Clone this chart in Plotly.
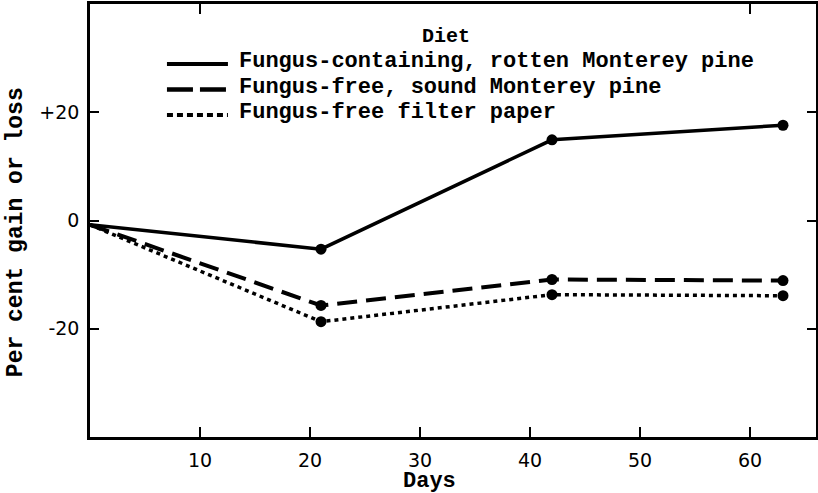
import plotly.graph_objects as go

days = [0, 21, 42, 63]
rotten_pine = [-0.8, -5.3, 14.9, 17.6]
sound_pine = [-0.8, -15.7, -10.9, -11.1]
filter_paper = [-0.8, -18.7, -13.7, -13.9]

series_names = [
    "Fungus-containing, rotten Monterey pine",
    "Fungus-free, sound Monterey pine",
    "Fungus-free filter paper",
]
legend_title = "Diet"
x_ticks = [10, 20, 30, 40, 50, 60]
y_ticks = [20, 0, -20]
y_tick_text = ["+20", "0", "-20"]

styles = [
    dict(width=3.5, dash="solid"),
    dict(width=4, dash="20px,9px"),
    dict(width=3.5, dash="4px,4px"),
]
legend_dashes = ["solid", "26px,7px", "6px,4px"]

fig = go.Figure()
for name, vals, st in zip(series_names, [rotten_pine, sound_pine, filter_paper], styles):
    fig.add_trace(go.Scatter(x=days, y=vals, mode="lines", name=name, showlegend=False,
                             line=dict(color="black", **st)))
for vals in [rotten_pine, sound_pine, filter_paper]:
    fig.add_trace(go.Scatter(x=days[1:], y=vals[1:], mode="markers", showlegend=False,
                             marker=dict(color="black", size=11)))

# invisible trace to carry top ticks
fig.add_trace(go.Scatter(x=[0, 66], y=[0, 0], xaxis="x2", mode="lines",
                         line=dict(width=0), showlegend=False, hoverinfo="skip"))

mono = "Liberation Mono"
txt_font = dict(family=mono, size=22, color="black", weight="bold")

# hand-built legend (paper coordinates)
legend_rows_y = [0.8672, 0.8083, 0.7494]
annotations = [dict(text=legend_title, x=0.49, y=0.9238, xref="paper", yref="paper",
                    showarrow=False, xanchor="center", yanchor="middle",
                    font=dict(family=mono, size=20, color="black", weight="bold"))]
shapes = []
for name, st, dsh, yy in zip(series_names, styles, legend_dashes, legend_rows_y):
    annotations.append(dict(text=name, x=0.202, y=yy, xref="paper", yref="paper",
                            showarrow=False, xanchor="left", yanchor="middle", font=txt_font))
    shapes.append(dict(type="line", xref="paper", yref="paper", x0=0.106, x1=0.19,
                       y0=yy - 0.006, y1=yy - 0.006,
                       line=dict(color="black", width=st["width"] + 0.5, dash=dsh)))

annotations.append(dict(text="Per cent gain or loss", textangle=-90, x=-0.102, y=0.473,
                        xref="paper", yref="paper", showarrow=False,
                        xanchor="center", yanchor="middle",
                        font=dict(family=mono, size=23, color="black", weight="bold")))
annotations.append(dict(text="Days", x=0.468, y=-0.103, xref="paper", yref="paper",
                        showarrow=False, xanchor="center", yanchor="middle",
                        font=dict(family=mono, size=22, color="black", weight="bold")))

tick_font = dict(family="DejaVu Sans", size=19, color="black")
fig.update_layout(
    width=818, height=493,
    margin=dict(l=90, r=2, t=4, b=56),
    paper_bgcolor="white", plot_bgcolor="white",
    font=dict(family=mono, color="black"),
    xaxis=dict(range=[0, 66], tickvals=x_ticks, ticks="inside", ticklen=10, tickwidth=2,
               tickcolor="black", showline=True, linecolor="black", linewidth=2.5,
               mirror=True, showgrid=False, zeroline=False, tickfont=tick_font,
               ticklabelstandoff=4, automargin=False),
    xaxis2=dict(range=[0, 66], overlaying="x", side="top", tickvals=[10, 60],
                ticks="inside", ticklen=10, tickwidth=2, tickcolor="black",
                showticklabels=False, showgrid=False, zeroline=False, showline=False,
                automargin=False),
    yaxis=dict(range=[-40, 40], tickvals=y_ticks, ticktext=y_tick_text, ticks="inside",
               ticklen=9, tickwidth=2, tickcolor="black", showline=True, linecolor="black",
               linewidth=2.5, mirror="ticks", showgrid=False, zeroline=False, tickfont=tick_font,
               ticklabelstandoff=4, automargin=False),
    annotations=annotations,
    shapes=shapes,
    showlegend=False,
)

fig.write_html("out.html", post_script="document.body.style.margin='0';",
               config={"displayModeBar": False})
